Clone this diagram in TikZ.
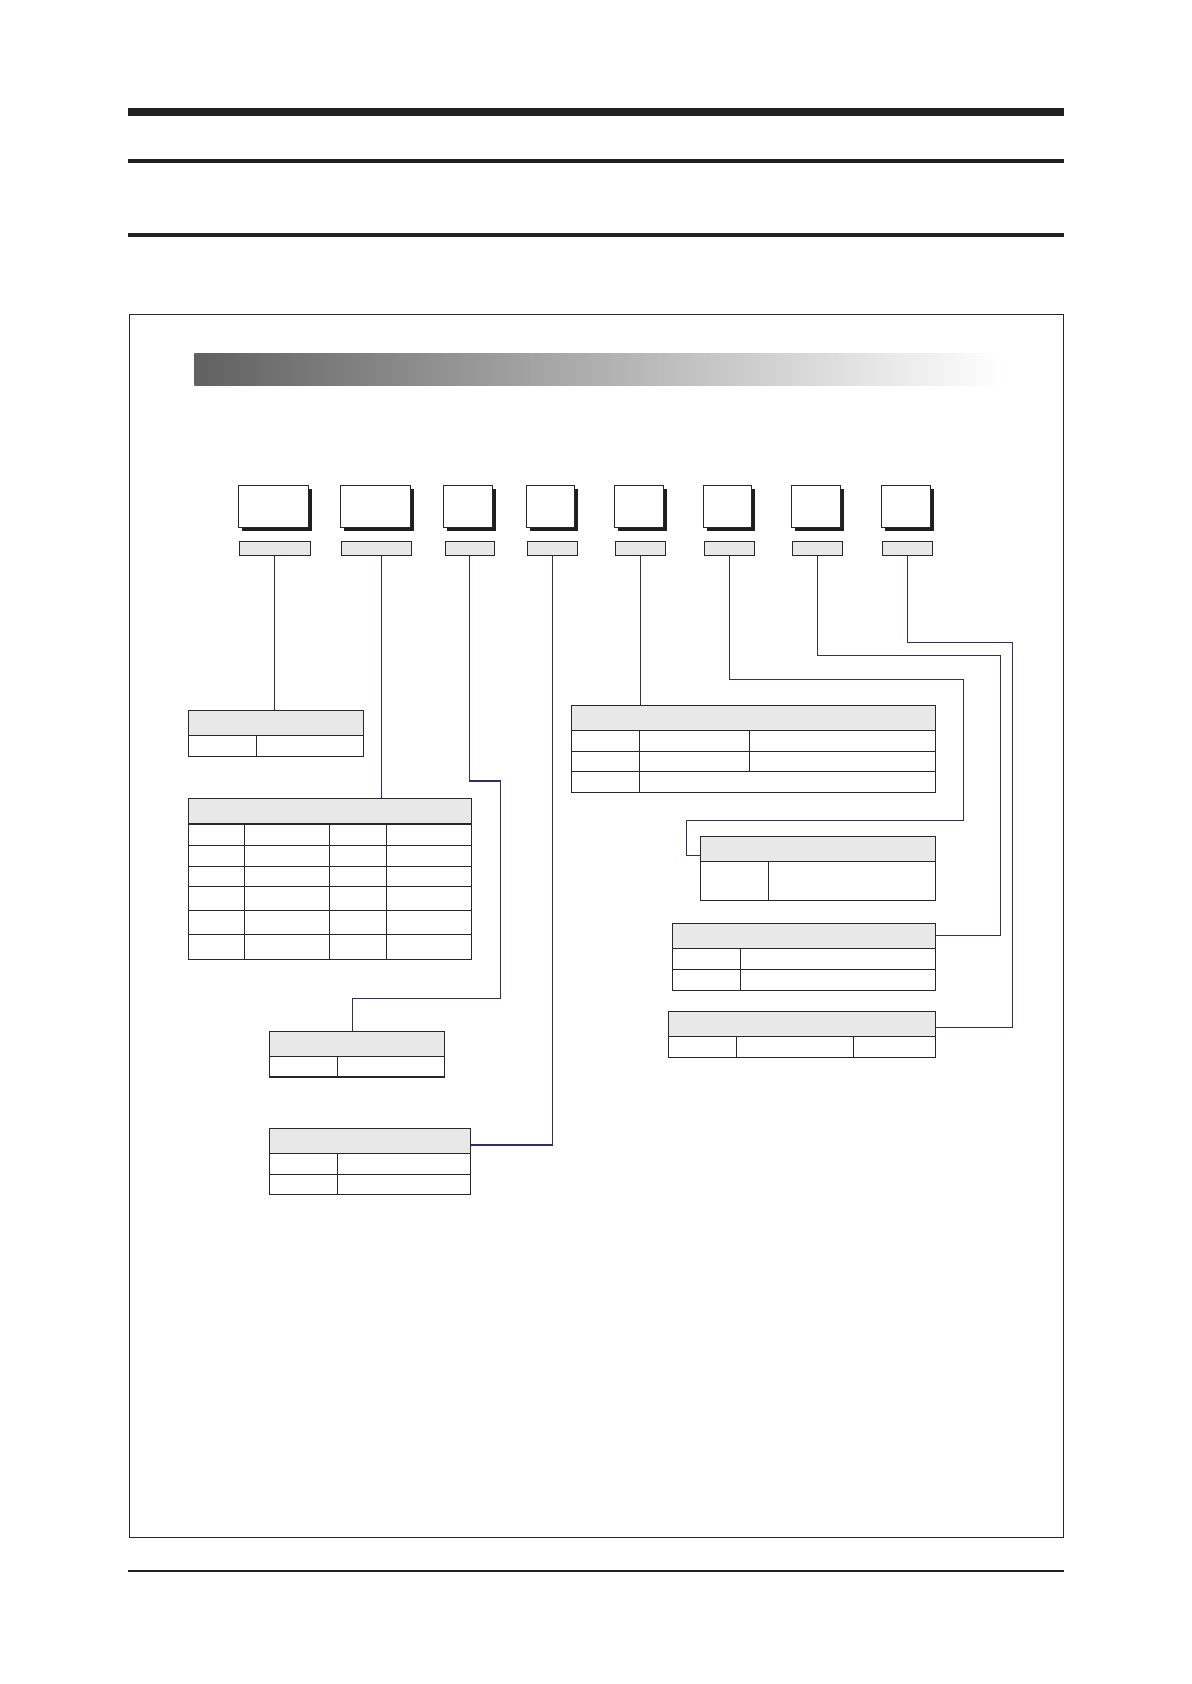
\documentclass[tikz,border=0pt]{standalone}
\usetikzlibrary{fit,shadows}
\definecolor{linec}{RGB}{40,40,40}
\definecolor{hdrc}{RGB}{232,232,232}
\definecolor{conc}{RGB}{50,45,105}
\tikzset{
  tblbox/.style={draw=linec, line width=0.55pt, inner sep=0pt, fill=none},
  mainbox/.style={draw=linec, line width=0.55pt, inner sep=0pt, fill=white,
    drop shadow={shadow xshift=1.8pt, shadow yshift=-1.8pt, fill=black!88, opacity=1}},
  lblbox/.style={draw=linec, line width=0.55pt, inner sep=0pt, fill=hdrc},
  grid/.style={draw=linec, line width=0.55pt},
  hdr/.style={fill=hdrc},
  conn/.style={draw=conc, line width=0.6pt},
  rule/.style={fill=black!87}
}
\newcommand\mkbox[6]{\node[#1, fit={(#3,#4)(#5,#6)}] (#2) {};}
\begin{document}
\begin{tikzpicture}[x=0.5pt,y=-0.5pt]
\useasboundingbox (0,0) rectangle (1191,1684);
% top rules
\fill[rule] (128,108) rectangle (1064,115.7);
\fill[rule] (128,159) rectangle (1064,162.7);
\fill[rule] (128,233) rectangle (1064,236.7);
% frame
\node[draw=linec, line width=0.5pt, inner sep=0pt, fit={(129.3,314.5)(1063.3,1537)}] (frame) {};
% bottom rule
\fill[rule] (128,1570) rectangle (1064,1572);
% gradient bar
\shade[left color=black!62, right color=white] (194.3,354) rectangle (1003.3,385.7);
% main boxes
\mkbox{mainbox}{b1}{238.3}{485.3}{308.7}{527.3}
\mkbox{mainbox}{b2}{340.3}{485.3}{410.7}{527.3}
\mkbox{mainbox}{b3}{443.3}{485.3}{492.7}{527.3}
\mkbox{mainbox}{b4}{526.3}{485.3}{574.7}{527.3}
\mkbox{mainbox}{b5}{614.3}{485.3}{663.7}{527.3}
\mkbox{mainbox}{b6}{703.3}{485.3}{751.7}{527.3}
\mkbox{mainbox}{b7}{791.3}{485.3}{840.7}{527.3}
\mkbox{mainbox}{b8}{881.3}{485.3}{930.7}{527.3}
% label boxes
\mkbox{lblbox}{l1}{239.3}{541.3}{310.3}{555.5}
\mkbox{lblbox}{l2}{341.3}{541.3}{411.3}{555.5}
\mkbox{lblbox}{l3}{445.3}{541.3}{494.3}{555.5}
\mkbox{lblbox}{l4}{527.3}{541.3}{577.3}{555.5}
\mkbox{lblbox}{l5}{615.3}{541.3}{665.3}{555.5}
\mkbox{lblbox}{l6}{704.3}{541.3}{754.3}{555.5}
\mkbox{lblbox}{l7}{792.3}{541.3}{842.3}{555.5}
\mkbox{lblbox}{l8}{882.3}{541.3}{932.3}{555.5}
% table headers
\fill[hdr] (188.7,710.3) rectangle (363.3,735.7);
\fill[hdr] (188.7,798.3) rectangle (471.3,824);
\fill[hdr] (571.3,705.3) rectangle (935.3,730.3);
\fill[hdr] (700.3,836.3) rectangle (935.3,861.3);
\fill[hdr] (672.3,923.5) rectangle (935.3,948.3);
\fill[hdr] (269.3,1031.3) rectangle (444.3,1056.3);
\fill[hdr] (269.3,1128.3) rectangle (470.7,1153.3);
\fill[hdr] (668.3,1011.3) rectangle (935.7,1036.3);
% tables (outer)
\mkbox{tblbox}{t1}{188.7}{710.3}{363.3}{756.3}
\mkbox{tblbox}{t2}{188.7}{798.3}{471.3}{959.3}
\mkbox{tblbox}{t3}{571.3}{705.3}{935.3}{792.3}
\mkbox{tblbox}{t4}{700.3}{836.3}{935.3}{900.3}
\mkbox{tblbox}{t5}{672.3}{923.5}{935.3}{990.3}
\mkbox{tblbox}{t6}{269.3}{1031.3}{444.3}{1077}
\mkbox{tblbox}{t7}{269.3}{1128.3}{470.7}{1194.3}
\mkbox{tblbox}{t8}{668.3}{1011.3}{935.7}{1057.3}
% table grids
% t1
\draw[grid] (188.7,735.7) -- (363.3,735.7);
\draw[grid] (256.3,735.7) -- (256.3,756.3);
% t2
\foreach \yy in {824,845.3,866.3,886.3,910.3,934.3}
  \draw[grid] (188.7,\yy) -- (471.3,\yy);
\foreach \xx in {244.5,329.5,386.3}
  \draw[grid] (\xx,824) -- (\xx,959.3);
% t3
\foreach \yy in {730.3,751.3,771.3}
  \draw[grid] (571.3,\yy) -- (935.3,\yy);
\draw[grid] (639.3,730.3) -- (639.3,792.3);
\draw[grid] (749.3,730.3) -- (749.3,771.3);
% t4
\draw[grid] (700.3,861.3) -- (935.3,861.3);
\draw[grid] (768.3,861.3) -- (768.3,900.3);
% t5
\foreach \yy in {948.3,969.3}
  \draw[grid] (672.3,\yy) -- (935.3,\yy);
\draw[grid] (740.3,948.3) -- (740.3,990.3);
% t6
\draw[grid] (269.3,1056.3) -- (444.3,1056.3);
\draw[grid] (337.3,1056.3) -- (337.3,1077);
% t7
\foreach \yy in {1153.3,1174.3}
  \draw[grid] (269.3,\yy) -- (470.7,\yy);
\draw[grid] (337.3,1153.3) -- (337.3,1194.3);
% t8
\draw[grid] (668.3,1036.3) -- (935.7,1036.3);
\draw[grid] (736.3,1036.3) -- (736.3,1057.3);
\draw[grid] (853.3,1036.3) -- (853.3,1057.3);
% connector bend points
\coordinate (c2) at (381.3,555.5);
\coordinate (c3a) at (500.3,781);
\coordinate (c3b) at (352.3,998.3);
\coordinate (c6a) at (963.3,679.3);
\coordinate (c6b) at (686.3,820.3);
\coordinate (c6c) at (686.3,855.3);
\coordinate (c7a) at (1000.3,655.7);
\coordinate (c8a) at (1012.7,642.3);
% connectors
\draw[conn] (l1.south) -- (l1.south |- t1.north);
\draw[conn] (c2) -- (c2 |- t2.north);
\draw[conn] (l3.south) |- (c3a) |- (c3b) -- (c3b |- t6.north);
\draw[conn] (l4.south) |- (t7.east |- 0,1145);
\draw[conn] (l5.south) -- (l5.south |- t3.north);
\draw[conn] (l6.south) |- (c6a) |- (c6b) -- (c6c) -- (t4.west |- c6c);
\draw[conn] (l7.south) |- (c7a) |- (t5.east |- 0,935.3);
\draw[conn] (l8.south) |- (c8a) |- (t8.east |- 0,1027.3);
\end{tikzpicture}
\end{document}
